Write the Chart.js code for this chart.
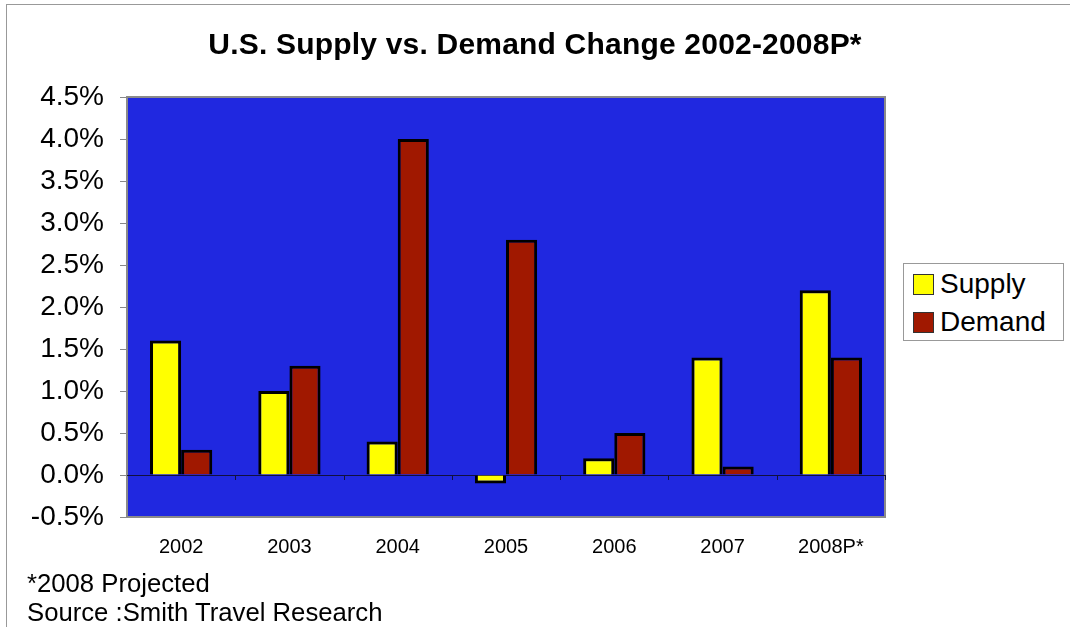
<!DOCTYPE html>
<html>
<head>
<meta charset="utf-8">
<script src="https://cdn.jsdelivr.net/npm/chart.js@4/dist/chart.umd.min.js"></script>
<style>
  body { margin: 0; background: #fff; font-family: "Liberation Sans", Arial, sans-serif; }
  #wrap { position: relative; width: 1070px; height: 627px; overflow: hidden; }
  #frame { position: absolute; left: 6px; top: 4px; right: -10px; bottom: -10px; border-left: 1px solid #999; border-top: 1px solid #999; }
  #title { position: absolute; left: 0; width: 1070px; top: 27px; text-align: center;
           font-family: "Liberation Sans", Arial, sans-serif;
           font-weight: bold; font-size: 30px; letter-spacing: 0.2px; color: #000; }
  #legend { position: absolute; left: 903px; top: 263px; width: 159px; height: 76px;
            border: 1px solid #999; background: #fff; font-size: 28px; }
  .item { position: absolute; left: 9px; height: 32px; line-height: 32px; white-space: nowrap; }
  .sw { display: inline-block; width: 19px; height: 19px; border: 1px solid #333; vertical-align: -2px; margin-right: 6px; }
  .foot { position: absolute; left: 27px; font-size: 25.7px; color: #000; }
  canvas { position: absolute; left: 0; top: 0; }
</style>
</head>
<body>
<div id="wrap">
  <div id="frame"></div>
  <canvas id="bar_chart" width="1070" height="627"></canvas>
  <div id="title">U.S. Supply vs. Demand Change 2002-2008P*</div>
  <div id="legend"></div>
  <div class="foot" style="top:569px">*2008 Projected</div>
  <div class="foot" style="top:598px">Source :Smith Travel Research</div>
</div>
<script>
// Data (percent change)
var years = ['2002', '2003', '2004', '2005', '2006', '2007', '2008P*'];
var supplyValues = [1.6, 1.0, 0.4, -0.1, 0.2, 1.4, 2.2];
var demandValues = [0.3, 1.3, 4.0, 2.8, 0.5, 0.1, 1.4];
var seriesNames = ['Supply', 'Demand'];
var seriesColors = ['#FFFF00', '#A01800'];

// Plot background, frame, zero line and category ticks
var plotDecor = {
	id: 'plotDecor',
	beforeDatasetsDraw: function(chart) {
		var ctx = chart.ctx, a = chart.chartArea;
		ctx.save();
		ctx.fillStyle = '#2028E0';
		ctx.fillRect(a.left, a.top, a.right - a.left, a.bottom - a.top);
		ctx.strokeStyle = '#8a8a8a';
		ctx.lineWidth = 2;
		ctx.strokeRect(a.left, a.top, a.right - a.left, a.bottom - a.top);
		var y0 = chart.scales.y.getPixelForValue(0);
		ctx.strokeStyle = '#101040';
		ctx.lineWidth = 1;
		ctx.beginPath();
		ctx.moveTo(a.left, y0 + 0.5);
		ctx.lineTo(a.right, y0 + 0.5);
		var xs = chart.scales.x;
		var step = xs.getPixelForValue(1) - xs.getPixelForValue(0);
		for (var i = 0; i < years.length; i++) {
			var bx = Math.round(xs.getPixelForValue(i) + step / 2) + 0.5;
			ctx.moveTo(bx, y0);
			ctx.lineTo(bx, y0 + 5);
		}
		ctx.stroke();
		ctx.restore();
	}
};

var chart = new Chart(document.getElementById('bar_chart'), {
	type: 'bar',
	data: {
		labels: years,
		datasets: [
			{ label: seriesNames[0], data: supplyValues, backgroundColor: seriesColors[0], borderColor: '#000', borderWidth: 3 },
			{ label: seriesNames[1], data: demandValues, backgroundColor: seriesColors[1], borderColor: '#000', borderWidth: 3 }
		]
	},
	options: {
		responsive: false,
		animation: false,
		layout: { padding: { left: 0, top: 97, right: 185, bottom: 0 } },
		datasets: { bar: { categoryPercentage: 0.575, barPercentage: 1.0 } },
		plugins: {
			legend: { display: false },
			tooltip: { enabled: false }
		},
		scales: {
			x: {
				grid: { display: false, drawTicks: false },
				border: { display: false },
				ticks: { color: '#000', padding: 18, font: { family: 'Liberation Sans', size: 20 } },
				afterFit: function(scale) { scale.height = 110; }
			},
			y: {
				min: -0.5,
				max: 4.5,
				grid: { drawOnChartArea: false, color: '#888', tickLength: 7 },
				border: { display: false },
				ticks: {
					stepSize: 0.5,
					color: '#000',
					padding: 16,
					font: { family: 'Liberation Sans', size: 28 },
					callback: function(v) { return v.toFixed(1) + '%'; }
				},
				afterFit: function(scale) { scale.width = 127; }
			}
		}
	},
	plugins: [plotDecor]
});

// Legend box built from the datasets
var legendBox = document.getElementById('legend');
chart.data.datasets.forEach(function(ds, i) {
	var item = document.createElement('div');
	item.className = 'item';
	item.style.top = (4 + i * 38) + 'px';
	item.innerHTML = '<span class="sw" style="background:' + ds.backgroundColor + '"></span>' + ds.label;
	legendBox.appendChild(item);
});
</script>
</body>
</html>
